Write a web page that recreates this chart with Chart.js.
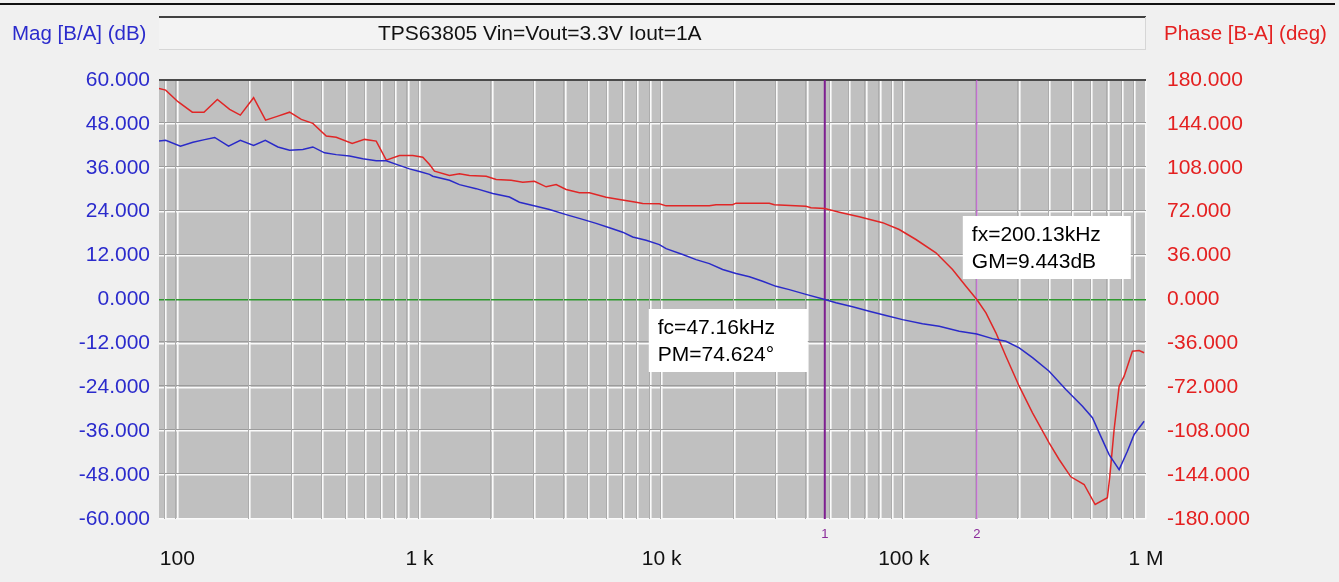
<!DOCTYPE html>
<html>
<head>
<meta charset="utf-8">
<script src="https://cdn.jsdelivr.net/npm/chart.js@4/dist/chart.umd.min.js"></script>
<style>
html,body{margin:0;padding:0;background:#f0f0f0;}
canvas{display:block;}
</style>
</head>
<body>
<canvas id="c" width="1339" height="582"></canvas>
<script>
// ---- data ----
const chartTitle = 'TPS63805 Vin=Vout=3.3V Iout=1A';
const magAxisTitle = 'Mag [B/A] (dB)';
const phaseAxisTitle = 'Phase [B-A] (deg)';

const magFreq = [84, 89.5, 103, 116, 129.6, 142.6, 162.8, 182, 206.5, 230.8, 260.2, 290.8, 329.9, 362.7, 405.4, 453, 514.2, 583.4, 662.6, 728.9, 813.6, 909, 1000, 1100,
  1134, 1330, 1462, 1714, 2007, 2352, 2586, 3031, 3440, 4033, 4721, 5362, 6085, 6902, 7592, 8622, 9784, 10430, 12210, 13870, 15740, 17860, 20280, 23040, 26110, 29660, 33650, 39430, 47160,
  52460, 61430, 71960, 84370, 98770, 119400, 139960, 169300, 200130, 232300, 263900, 299500, 339900, 398100, 466700, 546600, 600900, 650800, 704100, 774500, 837800, 893300, 982200];
const magDb = [43.3, 43.5, 41.9, 43.0, 43.7, 44.3, 41.9, 43.5, 42.1, 43.5, 41.7, 40.8, 41.0, 41.7, 40.1, 39.6, 39.2, 38.5, 37.9, 37.9, 36.8, 35.7, 35.0, 34.2,
  33.7, 32.6, 31.4, 30.3, 29.0, 28.0, 26.6, 25.5, 24.6, 23.2, 21.9, 20.8, 19.6, 18.4, 17.1, 16.2, 15.0, 13.9, 12.3, 10.9, 9.8, 8.2, 7.1, 6.2, 5.0, 3.6, 2.7, 1.4, 0.0,
  -0.9, -2.0, -3.2, -4.4, -5.5, -6.6, -7.3, -8.7, -9.44, -10.7, -11.4, -13.2, -15.9, -19.6, -24.6, -29.2, -32.3, -37.4, -42.4, -46.5, -41.5, -36.9, -33.3];

const phaseFreq = [84, 89.5, 100.6, 115.3, 128.8, 146.3, 164.4, 182, 206.5, 231.4, 260.2, 290.8, 325, 362.7, 412, 453, 527.5, 593, 662.6, 728.9, 827, 938, 1032, 1100,
  1153, 1330, 1462, 1608, 1886, 2073, 2390, 2669, 2983, 3334, 3667, 4033, 4575, 5031, 5898, 6692, 7843, 8350, 9784, 10430, 15740, 16770, 19630, 20280, 27830, 29190, 39430, 41360, 47160,
  54130, 65450, 81700, 95700, 112200, 135700, 158900, 180500, 200130, 218300, 240000, 263900, 299500, 339900, 398100, 437800, 489300, 555300, 616600, 692900, 709000, 738500, 774500, 812300, 878800, 936800, 982200];
const phaseDeg = [173.1, 171.7, 162.2, 153.6, 153.6, 164.1, 155.9, 151.2, 165.5, 147.1, 150.4, 153.6, 147.7, 144.4, 134.0, 133.1, 128.0, 131.3, 129.9, 114.3, 118.1, 118.1, 116.7, 110.7,
  105.2, 101.7, 103.1, 101.7, 101.1, 98.4, 97.8, 96.2, 97.0, 92.4, 94.3, 90.2, 87.5, 87.5, 83.9, 82.0, 79.8, 78.7, 78.5, 76.8, 76.8, 77.7, 77.7, 79.0, 79.0, 77.7, 76.5, 75.2, 74.6,
  71.6, 67.8, 63.0, 57.4, 49.2, 38.3, 24.6, 10.9, 0.0, -10.9, -27.3, -46.5, -71.1, -92.9, -117.5, -131.2, -145.4, -151.7, -168.1, -162.6, -144.9, -106.6, -71.1, -62.9, -42.4, -41.8, -43.7];

const freqRange = [84, 1000000];
const magRange = [-60, 60];
const phaseRange = [-180, 180];
const magStep = 12;
const phaseStep = 36;
const decadeLabels = {100: '100', 1000: '1 k', 10000: '10 k', 100000: '100 k', 1000000: '1 M'};

const markerFreqs = [47160, 200130];
const markerLabels = ['1', '2'];
const markerTexts = [['fc=47.16kHz', 'PM=74.624\u00B0'], ['fx=200.13kHz', 'GM=9.443dB']];

// ---- styles ----
const FONT = "'Liberation Sans', Arial, sans-serif";
const BLUE = '#2a2ac8';
const RED = '#e02626';
const BLUE_TXT = '#2b2bcc';
const RED_TXT = '#e42020';

const decor = {
  id: 'decor',
  beforeDraw(chart) {
    const {ctx, chartArea: a} = chart;
    ctx.save();
    ctx.fillStyle = '#f0f0f0';
    ctx.fillRect(0, 0, chart.width, chart.height);
    // top black line
    ctx.fillStyle = '#111';
    ctx.fillRect(0, 3, 1335, 2);
    // title box
    ctx.fillStyle = '#f3f3f3';
    ctx.fillRect(a.left, 17, a.right - a.left, 32);
    ctx.fillStyle = '#404040';
    ctx.fillRect(a.left, 16, a.right - a.left, 2);
    ctx.fillStyle = '#d6d6d6';
    ctx.fillRect(a.left, 49, a.right - a.left, 1);
    ctx.fillRect(a.right - 1, 17, 1, 33);
    ctx.font = '21px ' + FONT;
    ctx.fillStyle = '#111';
    ctx.textBaseline = 'alphabetic';
    ctx.textAlign = 'left';
    ctx.fillText(chartTitle, 378, 40);
    // axis titles
    ctx.font = '20.5px ' + FONT;
    ctx.fillStyle = BLUE_TXT;
    ctx.fillText(magAxisTitle, 12, 40);
    ctx.fillStyle = RED_TXT;
    ctx.fillText(phaseAxisTitle, 1164, 40);
    // plot background
    ctx.fillStyle = '#c0c0c0';
    ctx.fillRect(a.left, a.top, a.right - a.left, a.bottom - a.top);
    ctx.restore();
  },
  beforeDatasetsDraw(chart) {
    const {ctx, chartArea: a, scales} = chart;
    ctx.save();
    // shadows of grid lines
    ctx.fillStyle = '#9c9c9c';
    scales.y.ticks.forEach(t => {
      if (t.value === 0 || t.value === magRange[0] || t.value === magRange[1]) return;
      const py = Math.round(scales.y.getPixelForValue(t.value));
      ctx.fillRect(a.left, py - 2, a.right - a.left, 1);
    });
    ctx.fillStyle = '#acacac';
    scales.x.ticks.forEach(t => {
      const px = Math.round(scales.x.getPixelForValue(t.value));
      if (px >= a.right - 1) return;
      ctx.fillRect(px - 2, a.top, 1, a.bottom - a.top);
    });
    // top border of plot
    ctx.fillStyle = '#4a4a4a';
    ctx.fillRect(a.left, a.top - 1, a.right - a.left, 2);
    // markers
    markerFreqs.forEach((f, i) => {
      const px = scales.x.getPixelForValue(f);
      ctx.strokeStyle = i === 0 ? '#7e1f90' : '#b050c0';
      ctx.lineWidth = i === 0 ? 2 : 1.2;
      ctx.beginPath();
      ctx.moveTo(px, a.top);
      ctx.lineTo(px, a.bottom);
      ctx.stroke();
      ctx.fillStyle = '#8a2a9a';
      ctx.font = '13px ' + FONT;
      ctx.textAlign = 'center';
      ctx.textBaseline = 'middle';
      ctx.fillText(markerLabels[i], px, a.bottom + 15);
    });
    ctx.restore();
  },
  afterDatasetsDraw(chart) {
    const {ctx, scales} = chart;
    ctx.save();
    const boxes = [
      {x: scales.x.getPixelForValue(markerFreqs[0]) - 176, y: 309, w: 159, h: 63},
      {x: scales.x.getPixelForValue(markerFreqs[1]) - 14, y: 216, w: 168, h: 63}
    ];
    boxes.forEach((b, i) => {
      ctx.fillStyle = '#ffffff';
      ctx.fillRect(b.x, b.y, b.w, b.h);
      ctx.fillStyle = '#000';
      ctx.font = '21px ' + FONT;
      ctx.textAlign = 'left';
      ctx.textBaseline = 'alphabetic';
      ctx.fillText(markerTexts[i][0], b.x + 9, b.y + 25);
      ctx.fillText(markerTexts[i][1], b.x + 9, b.y + 52);
    });
    ctx.restore();
  }
};

const magData = magFreq.map((f, i) => ({x: f, y: magDb[i]}));
const phaseData = phaseFreq.map((f, i) => ({x: f, y: phaseDeg[i]}));

new Chart(document.getElementById('c'), {
  type: 'line',
  data: {
    datasets: [
      {label: 'Mag', data: magData, yAxisID: 'y', borderColor: BLUE, borderWidth: 1.5, pointRadius: 0, tension: 0, fill: false},
      {label: 'Phase', data: phaseData, yAxisID: 'y2', borderColor: RED, borderWidth: 1.5, pointRadius: 0, tension: 0, fill: false}
    ]
  },
  options: {
    responsive: false,
    devicePixelRatio: 1,
    animation: false,
    events: [],
    layout: {padding: {top: 80, left: 0, right: 0, bottom: 0}},
    plugins: {legend: {display: false}, tooltip: {enabled: false}, title: {display: false}},
    scales: {
      x: {
        type: 'logarithmic',
        position: 'bottom',
        min: freqRange[0],
        max: freqRange[1],
        afterFit(s) { s.height = 63; },
        afterBuildTicks(s) {
          const t = [];
          for (let e = 1; e <= 6; e++) {
            for (let k = 1; k <= 9; k++) {
              const v = k * Math.pow(10, e);
              if (v >= freqRange[0] && v <= freqRange[1]) t.push({value: v});
            }
          }
          s.ticks = t;
        },
        border: {display: false},
        grid: {color: '#fafafa', lineWidth: 1.6, drawTicks: false},
        ticks: {
          autoSkip: false, maxRotation: 0, minRotation: 0, padding: 28,
          color: '#111', font: {size: 21, family: FONT},
          callback(v) { return decadeLabels[Math.round(v)] || ''; }
        }
      },
      y: {
        type: 'linear',
        position: 'left',
        min: magRange[0],
        max: magRange[1],
        afterFit(s) { s.width = 159; },
        border: {display: false},
        grid: {
          drawTicks: false,
          color: c => c.tick && c.tick.value === 0 ? '#2d982d' : '#fafafa',
          lineWidth: c => c.tick && c.tick.value === 0 ? 1.5 : 1.5
        },
        ticks: {
          stepSize: magStep, padding: 9, color: BLUE_TXT, font: {size: 21, family: FONT},
          callback(v) { return Number(v).toFixed(3); }
        }
      },
      y2: {
        type: 'linear',
        position: 'right',
        min: phaseRange[0],
        max: phaseRange[1],
        afterFit(s) { s.width = 193; },
        border: {display: false},
        grid: {drawOnChartArea: false, drawTicks: false},
        ticks: {
          stepSize: phaseStep, padding: 21, color: RED_TXT, font: {size: 21, family: FONT},
          callback(v) { return Number(v).toFixed(3); }
        }
      }
    }
  },
  plugins: [decor]
});
</script>
</body>
</html>
